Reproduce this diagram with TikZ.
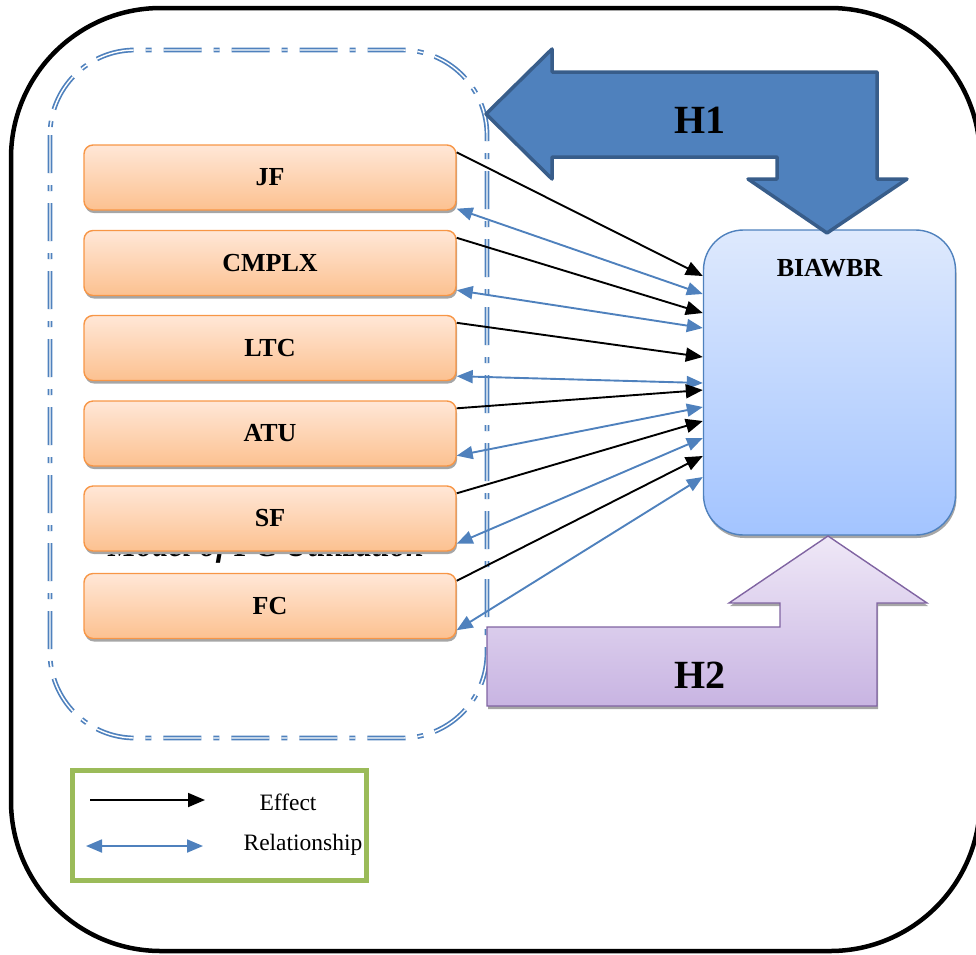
\documentclass[tikz,border=0pt]{standalone}
\usepackage{fontspec}
\setmainfont{Liberation Serif}
\usetikzlibrary{arrows.meta,shadows}

\definecolor{accblue}{HTML}{4F81BD}
\definecolor{darkblue}{HTML}{385D8A}
\definecolor{accorange}{HTML}{F79646}
\definecolor{accpurple}{HTML}{8064A2}
\definecolor{accgreen}{HTML}{9BBB59}
\definecolor{orfilltop}{HTML}{FFE7D7}
\definecolor{orfillbot}{HTML}{FCC190}
\definecolor{bifilltop}{HTML}{DEE9FD}
\definecolor{bifillbot}{HTML}{A3C4FF}
\definecolor{pufilltop}{HTML}{EFE8F7}
\definecolor{pufillbot}{HTML}{C8B4E2}

\newcommand{\labfont}{\fontsize{26}{30}\selectfont\bfseries}
\newcommand{\hfont}{\fontsize{40}{46}\selectfont\bfseries}
\newcommand{\legfont}{\fontsize{23.5}{27}\selectfont}
\newcommand{\modelfont}{\fontsize{32}{36}\selectfont\bfseries\itshape}

\tikzset{boxshadow/.style={drop shadow={shadow xshift=1pt, shadow yshift=-3pt, fill=black!35, opacity=1}}}

\begin{document}
\begin{tikzpicture}[x=1pt,y=-1pt]
	\tikzstyle{factor} = [draw=accorange, line width=1.4pt, rounded corners=9pt, top color=orfilltop, bottom color=orfillbot, minimum width=372pt, minimum height=65pt, font=\labfont, boxshadow]
	\tikzstyle{outcome} = [draw=accblue, line width=1.4pt, rounded corners=40pt, top color=bifilltop, bottom color=bifillbot, minimum width=252pt, minimum height=305pt, boxshadow]
	\tikzstyle{modelframe} = [draw=accblue, double=white, double distance=1.4pt, line width=1.7pt, dash pattern=on 38pt off 12pt on 6pt off 12pt]
	\tikzstyle{hone} = [fill=accblue, draw=darkblue, line width=3.5pt, line join=round]
	\tikzstyle{htwo} = [top color=pufilltop, bottom color=pufillbot, draw=accpurple, line width=1.4pt, boxshadow]
	\tikzstyle{effect} = [-{Triangle[length=17pt,width=14pt]}, line width=1.9pt, black]
	\tikzstyle{rel} = [{Triangle[length=16pt,width=13pt]}-{Triangle[length=16pt,width=13pt]}, line width=1.9pt, accblue]
	
	\useasboundingbox (0,0) rectangle (976,954);
	
	% outer frame and model frame
	\draw[line width=4.5pt, rounded corners=150pt] (11,8) rectangle (980,951);
	\draw[modelframe, rounded corners=85pt] (50,50) rectangle (487,738);
	\node[font=\modelfont, anchor=base] (modeltxt) at (266,556.5) {Model of FC Utilization};
	
	% factors
	\node[factor] (JF)    at (270,177.5) {JF};
	\node[factor] (CMPLX) at (270,263)   {CMPLX};
	\node[factor] (LTC)   at (270,348)   {LTC};
	\node[factor] (ATU)   at (270,433.5) {ATU};
	\node[factor] (SF)    at (270,518.5) {SF};
	\node[factor] (FC)    at (270,606)   {FC};
	
	% outcome
	\node[outcome] (bia) at (829.5,382.5) {};
	\node[font=\labfont] (biatxt) at (829.5,268) {BIAWBR};
	
	% hypotheses
	\draw[hone] (486,114) -- (552,49) -- (552,72) -- (877,72) -- (877,179) -- (907,179) -- (827,233) -- (748,179) -- (777,179) -- (777,157) -- (552,157) -- (552,179) -- cycle;
	\node[font=\hfont] (h1) at (700,120) {H1};
	\draw[htwo] (828,536) -- (927,603) -- (877,603) -- (877,706) -- (487,706) -- (487,627) -- (780,627) -- (780,603) -- (729,603) -- cycle;
	\node[font=\hfont] (h2) at (700,675) {H2};
	
	% effects and relationships
	\foreach \n/\ey/\sy/\ry in {JF/106.5/2/88.5, CMPLX/69.5/6/54.5, LTC/25.5/5/-0.5, ATU/-7.5/11/-24.5, SF/-38.5/8/-55.5, FC/-73.5/9/-94.5}{
		\draw[effect] ([yshift=-8pt]\n.north east) -- ([yshift=\ey*1pt]bia.west);
		\draw[rel] ([yshift=\sy*1pt]\n.south east) -- ([yshift=\ry*1pt]bia.west);
	}
	
	% legend
	\node[draw=accgreen, line width=5pt, minimum width=294pt, minimum height=110pt] (legend) at (219,825) {};
	\coordinate (effa) at (90,800);
	\coordinate (effb) at (205,800);
	\draw[effect] (effa) -- (effb);
	\node[font=\legfont] (efflbl) at (288,802) {Effect};
	\coordinate (rela) at (86,846);
	\coordinate (relb) at (203,846);
	\draw[rel] (rela) -- (relb);
	\node[font=\legfont] (rellbl) at (303,845) {Relationship};
	
\end{tikzpicture}
\end{document}
